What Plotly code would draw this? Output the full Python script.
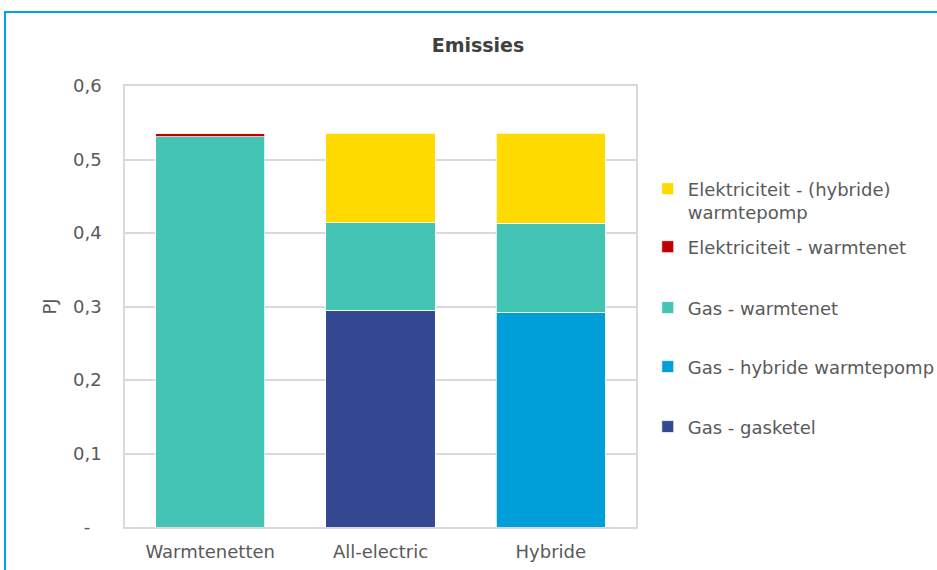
import plotly.graph_objects as go

categories = ["Warmtenetten", "All-electric", "Hybride"]

gas_gasketel = [0.0, 0.295, 0.0]
gas_hybride_wp = [0.0, 0.0, 0.2925]
gas_warmtenet = [0.531, 0.119, 0.121]
elek_warmtenet = [0.005, 0.0, 0.0]
elek_hybride_wp = [0.0, 0.122, 0.122]

series_names = [
    "Gas - gasketel",
    "Gas - hybride warmtepomp",
    "Gas - warmtenet",
    "Elektriciteit - warmtenet",
    "Elektriciteit - (hybride)<br>warmtepomp",
]
series_values = [gas_gasketel, gas_hybride_wp, gas_warmtenet, elek_warmtenet, elek_hybride_wp]
series_colors = ["#354992", "#009FDA", "#43C4B4", "#C00000", "#FFDA00"]

y_tickvals = [0, 0.1, 0.2, 0.3, 0.4, 0.5, 0.6]
y_ticktext = ["-\u00a0\u00a0", "0,1", "0,2", "0,3", "0,4", "0,5", "0,6"]

TEXT = "#595959"
FONT = "DejaVu Sans"

# legend slot positions (paper coords)
legend_keys = ["legend5", "legend4", "legend3", "legend2", "legend"]
legend_y = [0.2270, 0.3630, 0.4968, 0.6350, 0.7404]
legend_x = 1.023

fig = go.Figure()
for name, vals, col, lk in zip(series_names, series_values, series_colors, legend_keys):
    fig.add_trace(go.Bar(
        x=categories, y=vals, name=name,
        marker=dict(color=col, line=dict(color="white", width=0.75)),
        legend=lk, showlegend=True,
    ))

layout_legends = {}
for lk, ly in zip(legend_keys, legend_y):
    layout_legends[lk] = dict(
        x=legend_x, y=ly, xanchor="left", yanchor="middle",
        font=dict(family=FONT, size=18, color=TEXT),
        bgcolor="rgba(0,0,0,0)", valign="top",
    )

fig.update_layout(
    width=937, height=570,
    margin=dict(l=125, r=301, t=86, b=43, autoexpand=False),
    showlegend=True,
    paper_bgcolor="white", plot_bgcolor="white",
    barmode="stack", bargap=0.36,
    font=dict(family=FONT, size=18, color=TEXT),
    title=dict(text="<b>Emissies</b>", x=478 / 937, xref="container", xanchor="center",
               y=1 - 45 / 570, yref="container", yanchor="middle",
               font=dict(family=FONT, size=19, color="#404040")),
    xaxis=dict(showline=True, linecolor="#D9D9D9", linewidth=1.5, mirror=True,
               showgrid=False, ticks="", tickfont=dict(size=18, color=TEXT),
               ticklabelstandoff=8),
    yaxis=dict(range=[0, 0.6], tickvals=y_tickvals, ticktext=y_ticktext,
               showline=True, linecolor="#D9D9D9", linewidth=1.5, mirror=True,
               showgrid=True, gridcolor="#D9D9D9", gridwidth=1.5, zeroline=False,
               ticks="", ticklabelstandoff=18, tickfont=dict(size=18, color=TEXT),
               title=dict(text="PJ", standoff=12, font=dict(size=18, color=TEXT))),
    shapes=[dict(type="rect", xref="paper", yref="paper",
                 x0=(5 - 125) / 511, x1=(960 - 125) / 511,
                 y0=-(600 - 527) / 441, y1=1 + (86 - 12) / 441,
                 line=dict(color="#00A3DF", width=2), fillcolor="rgba(0,0,0,0)", layer="below")],
    **layout_legends,
)

fig.write_html("out.html")
